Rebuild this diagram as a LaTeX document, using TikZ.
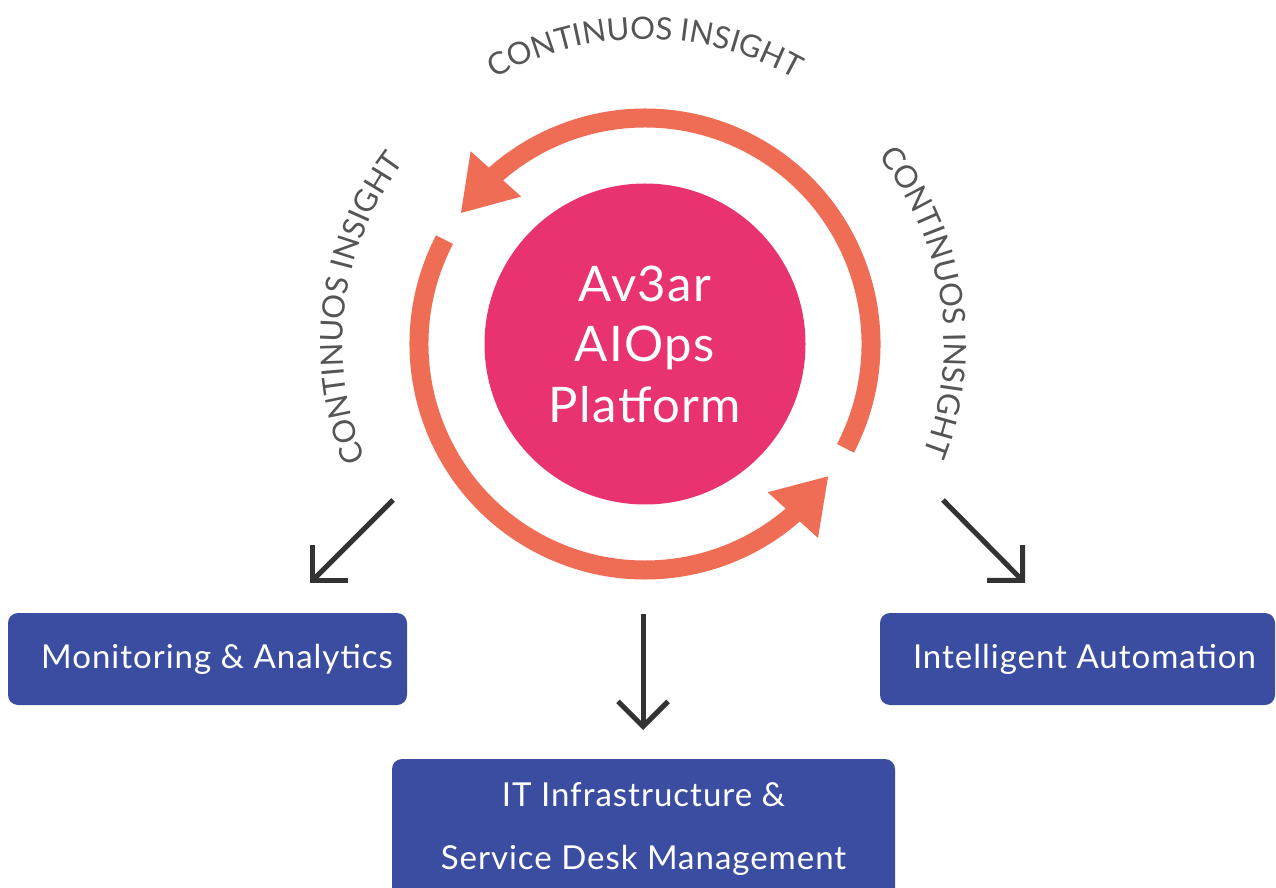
\documentclass[tikz,border=0pt]{standalone}
\usepackage{fontspec}
\setmainfont{Lato}[LetterSpace=3]
\newfontfamily\insightfamily{Lato}
\usetikzlibrary{arrows.meta,bending,decorations.text}
\definecolor{ringorange}{HTML}{F06D55}
\definecolor{hubpink}{HTML}{E83370}
\definecolor{boxblue}{HTML}{3A4DA0}
\definecolor{arrowgray}{HTML}{333333}
\definecolor{insightgray}{HTML}{555555}
\newcommand{\insightfont}{\insightfamily\fontsize{31}{31}\selectfont}

\begin{document}
\begin{tikzpicture}[x=1pt,y=1pt,
  ring/.style={line width=19pt,ringorange,-{Triangle[width=64pt,length=53pt]}},
  area/.style={fill=boxblue,text=white,rounded corners=10pt,minimum height=92pt,inner sep=0pt,font=\fontsize{33}{63}\selectfont},
  outarrow/.style={line width=5pt,arrowgray,-{Straight Barb[length=25pt,width=50pt,line join=miter,line cap=butt]}},
  insight/.style={decorate,decoration={text along path,text align=center,text color=insightgray,text={|\insightfont|CONTINUOS INSIGHT}}}]
\useasboundingbox (0,0) rectangle (1276,887);
% centre
\node[circle,fill=hubpink,minimum size=321pt,inner sep=0pt,text=white,align=center,font=\fontsize{49}{60.5}\selectfont] (hub) at (645,543) {Av3ar\\AIOps\\Platform};
% ring
\draw[ring] (hub.center) ++(-27.5:226) arc[start angle=-27.5,end angle=144.7,radius=226];
\draw[ring] (hub.center) ++(152.5:226) arc[start angle=152.5,end angle=324.3,radius=226];
% labels round the ring
\path[insight] (hub.center) ++(130:305) arc[start angle=130,end angle=50,radius=305];
\path[insight] (hub.center) ++(212.7:302) arc[start angle=212.7,end angle=132.7,radius=302];
\path[insight] (hub.center) ++(48.7:299) arc[start angle=48.7,end angle=-31.3,radius=299];
% boxes
\node[area,minimum width=399pt] (mon) at (207.5,228) {\hspace*{19pt}Monitoring \& Analytics};
\node[area,minimum width=395pt] (auto) at (1077.5,228) {\hspace*{14pt}Intelligent Automation};
\node[area,minimum width=503pt,minimum height=140pt,align=center] (itsm) at (643.5,58) {IT Infrastructure \&\\Service Desk Management};
% arrows out of the ring
\coordinate (monFrom) at (393,387);
\coordinate (monTo) at (310,304);
\coordinate (itsmFrom) at (643,273);
\coordinate (itsmTo) at (643,157);
\coordinate (autoFrom) at (943,387);
\coordinate (autoTo) at (1025,304);
\draw[outarrow] (monFrom) -- (monTo);
\draw[outarrow] (itsmFrom) -- (itsmTo);
\draw[outarrow] (autoFrom) -- (autoTo);
\end{tikzpicture}
\end{document}
